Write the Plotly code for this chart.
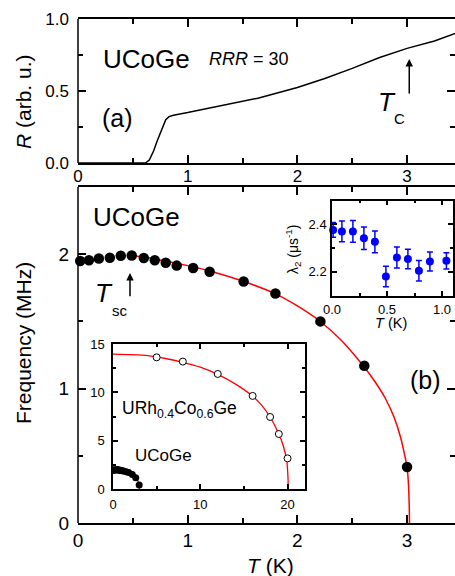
import plotly.graph_objects as go

W, H = 455, 576
FONT = "Liberation Sans, Arial, sans-serif"

# ---------- panel (a): resistance ----------
r_T = [0.0, 0.3, 0.615, 0.65, 0.69, 0.72, 0.75, 0.78, 0.80, 0.83, 0.87, 1.0, 1.25, 1.5,
       1.64, 2.0, 2.25, 2.5, 2.75, 3.0, 3.25, 3.44]
r_R = [0.0, 0.0, 0.0, 0.02, 0.085, 0.15, 0.205, 0.265, 0.30, 0.322, 0.332, 0.35, 0.39, 0.43,
       0.45, 0.524, 0.587, 0.657, 0.733, 0.796, 0.847, 0.90]

# ---------- panel (b): UCoGe precession frequency ----------
f_T = [0.02, 0.10, 0.19, 0.29, 0.39, 0.49, 0.60, 0.70, 0.80, 0.90, 1.05, 1.20, 1.51, 1.80,
       2.21, 2.61, 3.00]
f_F = [1.950, 1.955, 1.968, 1.973, 1.988, 1.990, 1.972, 1.955, 1.936, 1.915, 1.897, 1.869,
       1.797, 1.707, 1.500, 1.170, 0.417]
fit_T = [0.5, 0.7, 1.0, 1.2, 1.5, 1.8, 2.0, 2.2, 2.4, 2.6, 2.7, 2.8, 2.88, 2.94, 2.98, 3.0,
         3.012, 3.02, 3.022]
fit_F = [1.99, 1.965, 1.915, 1.875, 1.80, 1.705, 1.615, 1.505, 1.36, 1.17, 1.06, 0.93, 0.79,
         0.64, 0.50, 0.417, 0.30, 0.12, 0.0]

# ---------- inset: lambda_2 ----------
lam_T = [0.01, 0.09, 0.19, 0.29, 0.39, 0.49, 0.59, 0.69, 0.79, 0.89, 1.04]
lam_V = [2.376, 2.370, 2.370, 2.341, 2.326, 2.180, 2.260, 2.254, 2.204, 2.243, 2.246]
lam_E = [0.031, 0.044, 0.046, 0.047, 0.046, 0.043, 0.044, 0.041, 0.043, 0.040, 0.034]

# ---------- inset: URh0.4Co0.6Ge ----------
rh_T = [5, 8, 12, 16, 18, 19, 20]
rh_F = [13.62, 13.18, 11.9, 9.63, 7.45, 5.69, 3.17]
rhfit_T = [0, 2, 4, 6, 8, 10, 12, 14, 16, 17, 18, 19, 19.5, 19.9, 20.05, 20.08]
rhfit_F = [13.95, 13.9, 13.8, 13.5, 13.1, 12.6, 11.85, 10.87, 9.6, 8.7, 7.45, 5.7, 4.5, 3.0,
           1.2, 0.0]


def px(x):
    return x / W


def py(y):
    return 1 - y / H


fig = go.Figure()

fig.add_trace(go.Scatter(x=r_T, y=r_R, mode="lines", line=dict(color="black", width=1.5),
                         xaxis="x", yaxis="y", showlegend=False))
fig.add_trace(go.Scatter(x=fit_T, y=fit_F, mode="lines",
                         line=dict(color="red", width=1.5, shape="spline", smoothing=0.6),
                         xaxis="x2", yaxis="y2", showlegend=False))
fig.add_trace(go.Scatter(x=f_T, y=f_F, mode="markers", marker=dict(color="black", size=10.5),
                         cliponaxis=False, xaxis="x2", yaxis="y2", showlegend=False))

fig.add_trace(go.Scatter(x=lam_T, y=lam_V, mode="markers",
                         marker=dict(color="#0000ff", size=8),
                         error_y=dict(type="data", array=lam_E, color="#0000ff",
                                      thickness=1.5, width=3),
                         cliponaxis=False, xaxis="x3", yaxis="y3", showlegend=False))

fig.add_trace(go.Scatter(x=rhfit_T, y=rhfit_F, mode="lines",
                         line=dict(color="red", width=1.3, shape="spline", smoothing=0.6),
                         xaxis="x4", yaxis="y4", showlegend=False))
fig.add_trace(go.Scatter(x=fit_T, y=fit_F, mode="lines",
                         line=dict(color="red", width=1.2),
                         xaxis="x4", yaxis="y4", showlegend=False))
fig.add_trace(go.Scatter(x=f_T, y=f_F, mode="markers", marker=dict(color="black", size=7),
                         xaxis="x4", yaxis="y4", showlegend=False))
fig.add_trace(go.Scatter(x=rh_T, y=rh_F, mode="markers",
                         marker=dict(color="white", size=7, line=dict(color="black", width=1)),
                         cliponaxis=False, xaxis="x4", yaxis="y4", showlegend=False))


def axis(size, ticklen, minor_len, showline=True, **kw):
    d = dict(showline=showline, linecolor="black", linewidth=1.5, mirror="ticks",
             ticks="inside", tickcolor="black", tickwidth=1.5, ticklen=ticklen,
             showgrid=False, zeroline=False, automargin=False,
             tickfont=dict(family=FONT, size=size, color="black"))
    d.update(kw)
    if "minor" in d:
        d["minor"].update(dict(ticks="inside", ticklen=minor_len, tickwidth=1.5,
                               tickcolor="black", showgrid=False))
    return d


main_x_dom = [px(78), 1.0]
fig.update_layout(
    width=W, height=H, autosize=False,
    margin=dict(l=0, r=0, t=0, b=0, pad=0, autoexpand=False),
    paper_bgcolor="white", plot_bgcolor="white",
    font=dict(family=FONT, color="black"),
    xaxis=axis(17, 8, 5, domain=main_x_dom, range=[0, 3.437], anchor="y",
               dtick=1, tick0=0, minor=dict(dtick=0.5), ticklabelstandoff=-3),
    yaxis=axis(17, 8, 5, showline=False, domain=[py(163), py(19)], range=[0, 1], anchor="x",
               dtick=0.5, tick0=0, tickformat=".1f", minor=dict(dtick=0.25),
               ticklabelstandoff=8),
    xaxis2=axis(19, 8, 5, domain=main_x_dom, range=[0, 3.437], anchor="y2",
                dtick=1, tick0=0, minor=dict(dtick=0.5), ticklabelstandoff=-1),
    yaxis2=axis(19, 8, 5, showline=False, domain=[py(523), py(187)], range=[0, 2.5],
                anchor="x2", dtick=1, tick0=0, minor=dict(dtick=0.5), ticklabelstandoff=8),
    xaxis3=axis(13, 5, 3, domain=[px(332), px(453)], range=[0, 1.1], anchor="y3",
                dtick=0.5, tick0=0, tickformat=".1f", minor=dict(dtick=0.25),
                ticklabelstandoff=1),
    yaxis3=axis(13, 5, 3, domain=[py(295.5), py(200.5)], range=[2.1, 2.5], anchor="x3",
                dtick=0.2, tick0=2.2, tickformat=".1f", minor=dict(dtick=0.1),
                ticklabelstandoff=1),
    xaxis4=axis(13, 5, 3, domain=[px(113), px(305)], range=[0, 22], anchor="y4",
                dtick=10, tick0=0, minor=dict(dtick=5), ticklabelstandoff=3),
    yaxis4=axis(13, 5, 3, domain=[py(489), py(344)], range=[0, 15], anchor="x4",
                dtick=5, tick0=0, minor=dict(dtick=2.5), ticklabelstandoff=4),
)

# left frame lines of the main panels (right side is cut off in the original)
for xr, yr in (("x", "y"), ("x2", "y2")):
    fig.add_shape(type="line", xref=f"{xr} domain", yref=f"{yr} domain",
                  x0=0, x1=0, y0=0, y1=1, line=dict(color="black", width=1.5))


def label(text, x, y, size, xanchor="left", yanchor="middle", angle=0):
    fig.add_annotation(text=text, x=px(x), y=py(y), xref="paper", yref="paper",
                       xanchor=xanchor, yanchor=yanchor, showarrow=False, textangle=angle,
                       font=dict(family=FONT, size=size, color="black"))


# panel (a) texts
label("UCoGe", 101, 59, 26)
label("<i>RRR</i> = 30", 207, 59, 18)
label("(a)", 100, 118, 25)
label("<i>T</i>", 387, 102, 26, xanchor="center")
label("C", 399, 118, 15, xanchor="center")
label("<i>R</i> (arb. u.)", 23, 102, 21, xanchor="center", angle=-90)

# panel (b) texts
label("UCoGe", 91, 217, 26)
label("<i>T</i>", 104, 293, 26, xanchor="center")
label("sc", 120, 310, 15, xanchor="center")
label("(b)", 408, 380, 25)
label("Frequency (MHz)", 23, 343, 21, xanchor="center", angle=-90)
label("<i>T</i> (K)", 270, 565, 21, xanchor="center")

# inset texts
label("λ<sub>2</sub> (μs<sup>-1</sup>)", 293, 250, 14, xanchor="center", angle=-90)
label("<i>T</i> (K)", 391, 323, 14.5, xanchor="center")
label("URh<sub>0.4</sub>Co<sub>0.6</sub>Ge", 120, 409, 17.5)
label("UCoGe", 133, 455, 17)

# arrows
fig.add_annotation(x=3.02, y=0.722, ax=3.02, ay=0.472, xref="x", yref="y",
                   axref="x", ayref="y", text="", showarrow=True, arrowhead=2,
                   arrowsize=1, arrowwidth=1.5, arrowcolor="black", standoff=0)
fig.add_annotation(x=0.474, y=1.861, ax=0.474, ay=1.676, xref="x2", yref="y2",
                   axref="x2", ayref="y2", text="", showarrow=True, arrowhead=2,
                   arrowsize=1, arrowwidth=1.5, arrowcolor="black", standoff=0)

fig.write_html("out.html", config={"displayModeBar": False},
               post_script="document.body.style.margin='0';")
